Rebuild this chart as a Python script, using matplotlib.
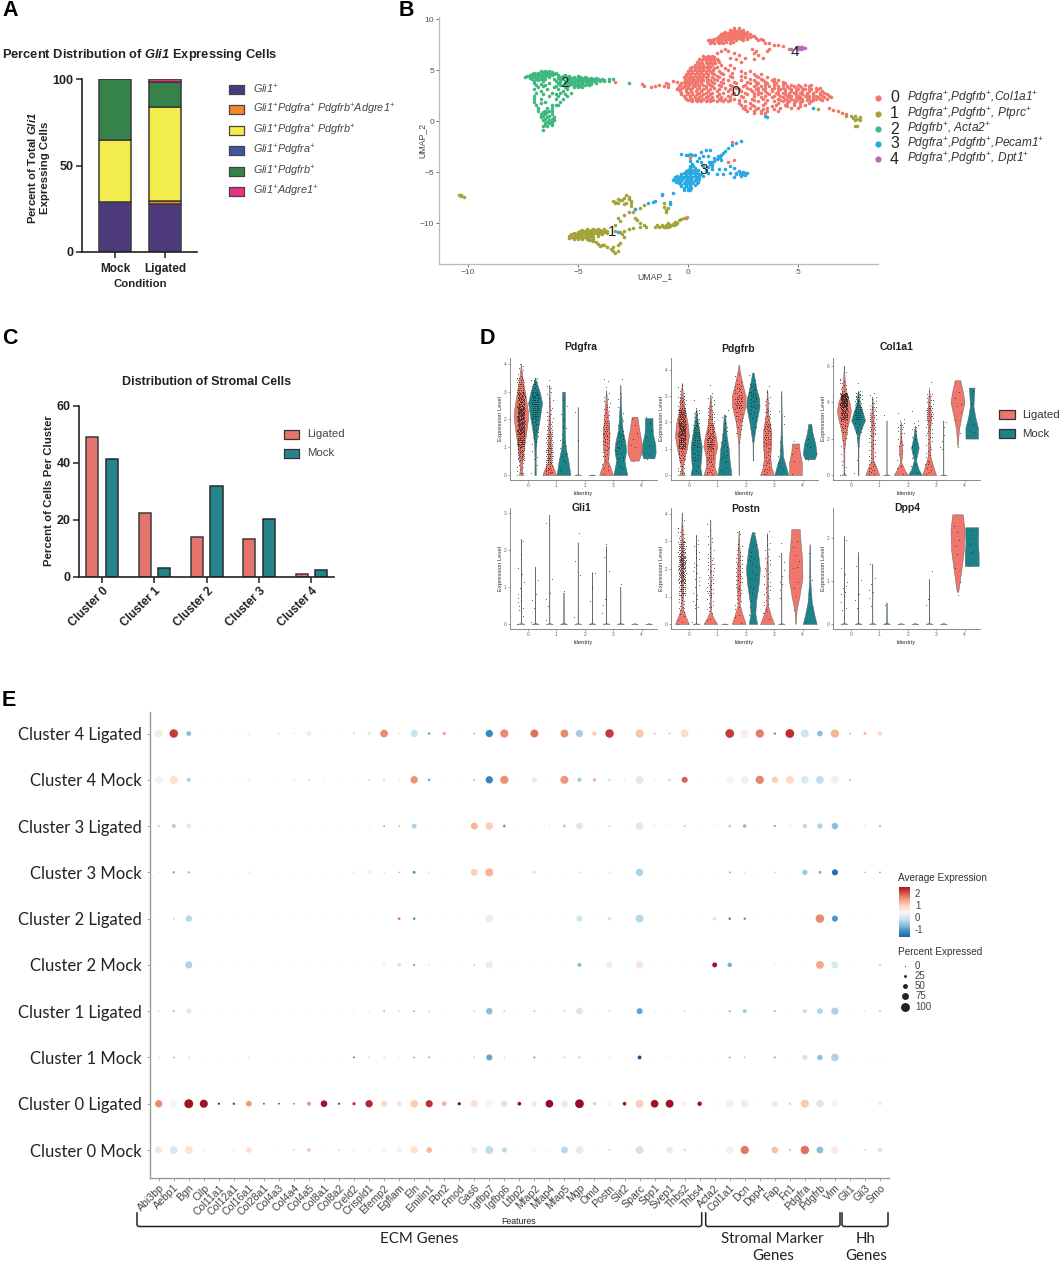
import matplotlib
matplotlib.use('Agg')
import matplotlib.pyplot as plt
import numpy as np
from matplotlib.colors import TwoSlopeNorm

plt.rcParams['font.family'] = ['Liberation Sans', 'DejaVu Sans']
plt.rcParams['mathtext.fontset'] = 'custom'
plt.rcParams['mathtext.rm'] = 'Liberation Sans'
plt.rcParams['mathtext.it'] = 'Liberation Sans:italic'
plt.rcParams['mathtext.bf'] = 'Liberation Sans:bold'
plt.rcParams['mathtext.bfit'] = 'Liberation Sans:italic:bold'

W, H = 1059, 1263

# ---- panel A
a_conditions = ['Mock', 'Ligated']
a_labels = [r'Gli1$^{+}$', r'Gli1$^{+}$Pdgfra$^{+}$ Pdgfrb$^{+}$Adgre1$^{+}$', r'Gli1$^{+}$Pdgfra$^{+}$ Pdgfrb$^{+}$',
            r'Gli1$^{+}$Pdgfra$^{+}$', r'Gli1$^{+}$Pdgfrb$^{+}$', r'Gli1$^{+}$Adgre1$^{+}$']
a_colors = ['#4C3A7C', '#F58A2C', '#F2EC4C', '#3F56A8', '#35834A', '#EC2F86']
a_mock = [29, 0, 35.5, 0, 35.5, 0]
a_ligated = [27.5, 1.7, 54.8, 0, 14, 2]

# ---- panel C
c_clusters = ['Cluster 0', 'Cluster 1', 'Cluster 2', 'Cluster 3', 'Cluster 4']
c_ligated = [49, 22.3, 14, 13.3, 0.8]
c_mock = [41.5, 3.2, 31.8, 20.2, 2.3]

umap0_rows = {
    9.1: [2.1, 2.3], 8.9: [1.9, 2.1, 2.3, 2.5], 8.7: [1.7, 1.9, 2.1, 2.3, 2.5, 2.7],
    8.5: [1.5, 1.7, 1.9, 2.0, 2.2, 2.4, 2.6, 2.8], 8.3: [1.4, 1.6, 1.8, 2.0, 2.2, 2.4, 2.6, 2.9, 3.0],
    8.1: [1.3, 1.5, 1.7, 1.9, 2.1, 2.3, 2.5, 2.7, 3.1], 7.9: [0.9, 1.0, 1.1, 1.3, 1.5, 1.7, 1.9, 2.2, 2.5, 3.2, 3.4],
    7.7: [1.0, 1.2, 1.4, 1.6, 1.9, 3.5, 3.7], 7.5: [3.9, 4.1], 7.35: [4.3], 7.1: [1.7, 2.9, 4.6, 3.7], 6.9: [1.5, 1.8, 3.1, 3.6],
    6.7: [1.3, 2.1, 3.0], 6.5: [2.3, 3.2], 6.4: [0.7, 0.9, 1.1], 6.2: [1.9, 2.6, 3.4], 6.1: [0.5, 0.7, 0.9, 1.1, 1.3, 2.2, 3.0],
    5.8: [0.4, 0.6, 0.8, 1.0, 1.2, 1.4, 2.4], 5.5: [0.3, 0.5, 0.7, 0.9, 1.1, 1.5, 1.9],
    5.2: [0.1, 0.3, 0.5, 0.7, 0.9, 1.2, 1.7, 2.1], 4.9: [0, 0.2, 0.4, 0.6, 0.8, 1.0, 1.4, 2.4, 2.8],
    4.6: [-0.1, 0.1, 0.3, 0.5, 0.7, 0.9, 1.2, 1.6, 3.0, 3.3], 4.3: [-0.2, 0, 0.2, 0.4, 0.6, 0.8, 1.1, 1.4, 2.0, 2.6, 3.2, 3.6],
    4.0: [-0.1, 0.1, 0.3, 0.5, 0.7, 1.0, 1.3, 1.8, 2.4, 3.0, 3.4, 3.8, 4.1],
    3.8: [-0.5, -3.3], 3.9: [-0.7],
    3.7: [-1.0, -0.3, -0.1, 0.1, 0.3, 0.6, 0.9, 1.2, 1.6, 2.2, 2.8, 3.2, 3.6, 4.0, 4.4],
    3.6: [-2.1, -0.9], 3.5: [-1.3],
    3.4: [-2.0, -1.5, -1.1, -0.4, -0.2, 0, 0.3, 0.5, 0.8, 1.1, 1.5, 2.0, 2.5, 3.0, 3.3, 3.7, 4.1, 4.5, 4.8, 5.1, 5.5],
    3.3: [-1.7, -0.9],
    3.1: [-0.5, -0.4, -0.1, 0.1, 0.4, 0.7, 1.0, 1.4, 1.9, 2.3, 2.8, 3.1, 3.4, 3.8, 4.2, 4.4, 4.7, 5.0, 5.3, 5.6, 5.9],
    2.8: [-0.3, 0, 0.2, 0.5, 0.8, 1.1, 1.6, 2.1, 2.6, 3.0, 3.3, 3.6, 4.0, 4.3, 4.6, 4.8, 5.1, 5.4, 5.7, 6.0, 6.2],
    2.5: [-0.2, 0.1, 0.3, 0.6, 0.9, 1.3, 1.8, 2.4, 3.0, 3.5, 3.9, 4.2, 4.5, 4.7, 5.0, 5.3, 5.5, 5.8, 6.1, 6.4],
    2.2: [-0.1, 0.2, 0.4, 0.7, 1.0, 1.4, 1.7, 2.1, 2.9, 3.4, 4.1, 4.4, 4.7, 5.0, 5.2, 5.5, 5.8, 6.0, 6.3],
    1.95: [0.2, 0.4, 0.6, 0.8, 1.0, 1.3, 1.6, 1.8, 2.6, 3.2, 3.9, 4.3, 4.6, 4.9, 5.2, 5.6],
    1.6: [2.4, 2.9, 3.4, 4.0, 4.4, 4.8, 5.3], 1.3: [2.5, 2.8, 3.2, 3.6, 4.2, 4.7, 5.0, 6.4], 1.1: [6.6],
    1.0: [2.7, 3.0, 3.3, 3.6, 4.1, 6.8], 0.8: [7.0], 0.75: [3.0, 3.3, 3.5], 0.7: [7.2],
    -2.0: [2.0], -3.6: [0.1], -3.8: [2.1], -4.0: [1.8], -9.4: [-0.05], -9.5: [-0.1],
}
umap0_more = {
    8.8: [2.0, 2.2, 2.4], 8.6: [1.6, 1.8, 2.0, 2.2, 2.4, 2.6], 8.4: [1.5, 1.7, 1.9, 2.1, 2.3, 2.5, 2.7],
    8.2: [1.4, 1.6, 1.8, 2.0, 2.2, 2.4, 2.8], 8.0: [1.2, 1.4, 1.6, 1.8, 2.0, 2.4, 2.7, 3.3], 7.8: [1.05, 1.15, 1.35, 1.5, 1.75, 2.05],
    6.25: [0.8, 1.0, 1.2], 5.95: [0.6, 0.8, 1.0, 1.2, 1.35], 5.65: [0.45, 0.65, 0.85, 1.05, 1.25],
    5.35: [0.2, 0.4, 0.6, 0.8, 1.0, 1.3], 5.05: [0.1, 0.3, 0.5, 0.7, 0.95, 1.15, 1.8],
    4.75: [0, 0.2, 0.4, 0.6, 0.8, 1.1, 1.5, 2.0, 2.6], 4.45: [-0.1, 0.1, 0.3, 0.5, 0.7, 0.9, 1.3, 1.9, 2.4, 3.1],
    4.15: [-0.15, 0.05, 0.25, 0.45, 0.65, 0.85, 1.2, 1.6, 2.8, 3.3, 3.9],
    3.85: [-0.2, 0, 0.2, 0.4, 0.6, 0.85, 1.1, 1.5, 2.1, 2.7, 3.1, 3.5, 3.9, 4.3],
    3.55: [-0.35, -0.15, 0.05, 0.25, 0.45, 0.7, 1.0, 1.4, 1.9, 2.6, 3.1, 3.5, 3.9, 4.3, 4.7, 5.0, 5.3, 5.6],
    3.25: [-0.45, -0.25, -0.05, 0.2, 0.5, 0.8, 1.2, 1.7, 2.2, 2.7, 3.2, 3.5, 3.9, 4.1, 4.3, 4.6, 4.9, 5.2, 5.5, 5.8, 6.0],
    2.95: [-0.35, -0.1, 0.15, 0.35, 0.6, 0.9, 1.3, 1.8, 2.4, 2.9, 3.2, 3.5, 3.8, 4.1, 4.4, 4.7, 4.9, 5.2, 5.5, 5.8, 6.1],
    2.65: [-0.3, -0.05, 0.2, 0.4, 0.7, 1.0, 1.4, 2.0, 2.7, 3.2, 3.7, 4.1, 4.4, 4.6, 4.9, 5.2, 5.4, 5.7, 6.0, 6.3],
    2.35: [-0.15, 0.1, 0.3, 0.5, 0.8, 1.1, 1.5, 1.9, 2.5, 3.3, 3.8, 4.3, 4.6, 4.9, 5.1, 5.4, 5.7, 5.9, 6.2, 6.5],
    2.08: [0, 0.15, 0.35, 0.55, 0.85, 1.15, 1.5, 1.9, 2.3, 3.0, 3.6, 4.2, 4.5, 4.8, 5.1, 5.4, 5.7, 6.1],
    1.8: [2.3, 2.8, 3.5, 4.1, 4.5, 4.8, 5.1, 5.5], 1.45: [2.6, 3.0, 3.8, 4.5, 5.1], 1.15: [2.6, 3.1, 3.4, 3.9],
}
umap1_rows = {
    0.5: [7.2, 7.4, 7.6], 0.4: [7.8], 0.3: [7.5], 0.2: [7.7], 0.1: [7.6, 7.8], -0.5: [7.6, 7.7], 1.2: [5.9],
    -7.2: [-10.4, -10.3, -2.8], -7.3: [-10.3], -7.4: [-10.2, -2.7], -7.5: [-2.9],
    -7.7: [-3.0, -3.1], -7.8: [-3.4, -2.6], -7.9: [-3.3], -8.0: [-3.2, -1.1], -8.1: [-2.9], -8.2: [-2.0],
    -8.3: [-2.6], -8.4: [-1.1], -8.5: [-2.2, -0.9], -8.6: [-2.4], -8.7: [-1.0], -8.9: [-2.7, -2.5, -1.0],
    -9.2: [-2.9], -9.5: [-3.2, -2.4, -0.2], -9.6: [-0.3], -9.7: [-2.3, -0.4], -9.8: [-3.1], -9.9: [-0.6],
    -10.0: [-2.2, -0.9, -0.5], -10.1: [-0.7], -10.2: [-3.3, -2.0, -1.4, -1.0], -10.3: [-1.2, -0.8], -10.4: [-2.2, -1.9, -1.5, -1.1],
    -10.5: [-2.5], -10.6: [-4.6, -4.3, -4.1, -3.8, -2.7],
    -10.8: [-4.9, -4.7, -4.5, -4.3, -4.1, -3.9, -3.7, -3.3, -2.9], -10.9: [-3.1],
    -11.0: [-5.2, -5.0, -4.8, -4.6, -4.4, -4.2, -4.0, -3.7], -11.1: [-3.0],
    -11.2: [-5.4, -5.2, -5.0, -4.8, -4.6, -4.4, -4.1], -11.3: [-2.9],
    -11.4: [-5.4, -5.2, -5.0, -4.8, -4.5], -11.7: [-4.3], -11.9: [-3.1], -12.0: [-4.1], -12.1: [-3.8, -3.2],
    -12.2: [-4.0], -12.3: [-3.7, -3.4], -12.5: [-3.5], -12.7: [-3.4, -3.2], -12.9: [-3.3],
}
umap1_more = {
    -10.7: [-4.8, -4.6, -4.4, -4.2, -4.0, -3.8], -10.9: [-5.0, -4.8, -4.6, -4.4, -4.2, -4.0, -3.8],
    -11.1: [-5.3, -5.1, -4.9, -4.7, -4.5, -4.3, -4.1, -3.9], -11.3: [-5.3, -5.1, -4.9, -4.7, -4.5, -4.3],
    -11.5: [-5.2, -5.0, -4.8, -4.6, -4.3], -11.6: [-4.5, -4.4], -11.85: [-4.2], -12.15: [-3.9],
    -10.35: [-1.0, -0.9, -1.3], -10.15: [-0.85, -0.75, -1.2, -0.65], -10.05: [-0.55], -7.6: [-3.2, -2.7], -8.05: [-3.3, -2.8, -2.6],
}
umap2_rows = {
    4.9: [-6.7, -6.5, -6.3], 4.7: [-7.0, -6.8, -6.6, -6.4, -6.2, -6.0], 4.5: [-7.2, -7.0, -6.8, -6.6, -6.4, -6.2, -5.9, -5.6],
    4.3: [-7.4, -7.2, -7.0, -6.8, -6.6, -6.3, -5.8, -5.5, -5.2, -4.9, -4.7],
    4.1: [-7.1, -6.9, -6.7, -6.5, -6.1, -5.7, -5.4, -5.1, -4.9, -4.7, -4.5, -4.3, -4.1, -3.9, -3.6, -3.4],
    3.9: [-7.0, -6.6, -6.0, -5.6, -5.3, -5.1, -4.9, -4.7, -4.5, -4.3, -4.0, -3.8, -3.6],
    3.75: [-2.7], 3.7: [-7.0, -6.3, -5.9, -5.5, -5.2, -5.0, -4.8, -4.6, -4.4, -4.2],
    3.5: [-6.9, -6.5, -5.8, -5.4, -5.1, -4.9, -4.7, -4.5], 3.3: [-6.8, -6.1, -5.6, -5.2, -5.0, -4.8],
    3.1: [-7.0, -6.4, -5.9, -5.5], 2.8: [-6.9, -6.2, -5.8, -5.3], 2.5: [-7.0, -6.3, -5.9, -5.5], 2.2: [-7.0, -6.7, -6.0, -5.7],
    1.9: [-7.0, -6.5, -5.8], 1.6: [-6.9, -6.2, -6.0, -5.9], 1.3: [-6.8, -6.4, -6.2], 1.0: [-6.8, -6.5, -6.3, -6.2],
    0.7: [-6.7, -6.5, -6.2], 0.4: [-6.7, -6.4, -6.1], 0.1: [-6.6, -6.3, -6.1], -0.2: [-6.5, -6.3, -6.2], -0.5: [-6.6, -6.4], -0.85: [-6.6],
}
umap2_more = {
    4.8: [-6.6, -6.4, -6.2], 4.6: [-7.1, -6.9, -6.7, -6.5, -6.3, -6.1], 4.4: [-7.3, -7.1, -6.9, -6.7, -6.5, -5.7, -5.4, -5.0],
    4.2: [-7.2, -6.9, -6.6, -5.9, -5.5, -5.3, -5.0, -4.8, -4.6, -4.4, -4.2],
    4.0: [-6.8, -5.8, -5.5, -5.2, -5.0, -4.8, -4.6, -4.4, -4.2, -4.0, -3.8],
    3.8: [-5.8, -5.4, -5.2, -5.0, -4.8, -4.6, -4.4, -4.2], 3.6: [-6.7, -5.6, -5.3, -5.0, -4.8, -4.6, -4.4],
    3.4: [-6.6, -6.0, -5.5, -5.2, -4.9], 3.0: [-6.7, -5.7], 2.65: [-6.6, -6.0, -5.6], 1.75: [-6.7],
    0.85: [-6.6, -6.4], 0.55: [-6.6, -6.3], 0.25: [-6.5, -6.2], -0.05: [-6.4, -6.2], -0.35: [-6.5, -6.2],
}
umap3_rows = {
    1.3: [5.7], 0.5: [3.5], 0.4: [3.6], -1.9: [2.4], -2.1: [2.2], -2.3: [2.0], -2.6: [1.8], -2.8: [0.8, 1.0], -2.9: [1.7], -3.0: [0.6],
    -3.1: [1.6], -3.2: [-0.3, 0.1], -3.3: [-0.1, 0.3, 1.5], -3.4: [0.7, 1.4], -3.5: [1.4], -3.6: [0.5], -3.7: [1.3], -3.8: [1.5],
    -3.9: [0.1, 0.4, 1.2], -4.2: [0.2, 1.0, 1.1], -4.4: [1.9], -4.5: [0.9], -4.6: [0.1, 0.3, 2.1], -4.7: [1.1, 1.4, 1.7],
    -4.8: [0.8], -4.9: [-0.1, 0.1, 0.3, 2.3], -5.0: [2.5], -5.1: [0.9, 1.9, 2.7],
    -5.2: [-0.3, -0.1, 0.1, 0.3, 0.5, 0.6, 1.3, 1.6, 2.2], -5.3: [2.6], -5.4: [2.4], -5.5: [-0.6, -0.4, -0.2, 0, 0.2, 0.4, 2.1],
    -5.8: [-0.7, -0.5, -0.3, -0.1, 0.1, 0.3], -6.1: [-0.4, -0.2, 0, 0.2, 0.4], -6.4: [-0.3, -0.1, 0.1], -6.7: [-0.2, 0, 0.1],
    -7.0: [-0.7], -7.1: [-1.2], -7.2: [-1.2], -7.8: [-1.5], -7.9: [-1.6, -0.8], -8.0: [-1.8], -8.1: [-0.8], -8.6: [-2.4], -10.9: [-3.2],
}
umap3_more = {
    -5.05: [-0.2, 0, 0.2, 0.4, 2.2, 2.4, 2.6], -5.35: [-0.5, -0.3, -0.1, 0.1, 0.3, 0.5, 0.7], -5.65: [-0.65, -0.45, -0.25, -0.05, 0.15, 0.35, 0.5],
    -5.95: [-0.55, -0.35, -0.15, 0.05, 0.25, 0.45], -6.25: [-0.3, -0.1, 0.1, 0.3], -6.55: [-0.2, 0, 0.15], -4.75: [0, 0.2, 0.45],
    -3.6: [1.2, 1.45], -3.3: [0, 0.2], -4.4: [0.1, 0.25, 0.7, 1.1], -5.15: [2.35, 2.5], -3.45: [0.9, 1.35], -4.0: [0.6, 0.95, 1.05],
}
umap4_rows = {7.3: [5.0, 5.2], 7.2: [4.9, 5.1, 5.3], 7.1: [4.7, 5.0], 7.05: [5.15]}
umap4_more = {7.15: [5.2, 5.25], 7.25: [5.05, 5.15]}
umap_rows = [[umap0_rows, umap0_more], [umap1_rows, umap1_more], [umap2_rows, umap2_more], [umap3_rows, umap3_more], [umap4_rows, umap4_more]]
umap_colors = ['#F2766C', '#A3A33A', '#3DB87F', '#27A9E1', '#B56DB5']
umap_legend = [r'Pdgfra$^{+}$,Pdgfrb$^{+}$,Col1a1$^{+}$', r'Pdgfra$^{+}$,Pdgfrb$^{+}$, Ptprc$^{+}$', r'Pdgfrb$^{+}$, Acta2$^{+}$',
               r'Pdgfra$^{+}$,Pdgfrb$^{+}$,Pecam1$^{+}$', r'Pdgfra$^{+}$,Pdgfrb$^{+}$, Dpt1$^{+}$']

# ---- panel D, violin outlines as (level, relative width), ligated then mock for clusters 0-4
flat = [(0, 0.5), (0.02, 0.01)]
def thin(top, w=0.015):
    return [(0, 0.5), (0.03, w), (top, w * 0.6)]

pdgfra_v = [
    [(0, .3), (.15, .15), (.5, .2), (1, .45), (1.5, .75), (2, 1), (2.3, 1), (2.8, .7), (3.3, .35), (3.7, .12), (4, .02)],
    [(0, .1), (.5, .08), (1, .12), (1.5, .3), (2, .65), (2.6, 1), (3, .65), (3.3, .25), (3.5, .03)],
    [(0, 1), (.2, .7), (.45, .25), (.8, .25), (1.2, .22), (2, .12), (3.25, .02)],
    [(0, 1), (.5, .7), (1, .3), (1.5, .2), (2, .2), (3, .2)],
    thin(2.45), flat,
    [(0, 1), (.25, .65), (.5, .3), (1, .4), (1.5, .5), (2, .3), (2.5, .15), (3.05, .02)],
    [(0, 1), (.5, .6), (.9, .85), (1.2, .7), (1.6, .35), (2, .2), (2.5, .1), (3.25, .02)],
    [(.52, .6), (.8, 1), (1.2, 1), (1.6, .7), (2.1, .4)],
    [(.6, .8), (.8, 1), (1.1, .95), (1.5, .6), (1.8, .55), (2.05, .55)],
]
pdgfrb_v = [
    [(0, .4), (.2, .1), (.5, .25), (1, .7), (1.5, 1), (2, .8), (2.5, .4), (3, .15), (3.5, .02)],
    [(0, .8), (.3, .6), (.7, .75), (1.1, .8), (1.5, .55), (2, .25), (2.5, .05)],
    [(0, 1), (.3, .6), (.7, .65), (1.1, 1), (1.5, .75), (2, .3), (3.05, .03)],
    [(0, 1), (.5, .75), (1, .6), (1.5, .3), (2.3, .1)],
    [(0, .02), (1.2, .05), (2, .4), (2.6, .95), (3, 1), (3.4, .6), (3.9, .2), (4.2, .02)],
    [(.55, .02), (1.2, .05), (2, .5), (2.6, .95), (2.9, .9), (3.3, .5), (3.9, .1)],
    [(0, 1), (.3, .6), (.7, .45), (1.2, .6), (1.7, .55), (2.3, .2), (3.25, .02)],
    [(0, 1), (.3, .7), (.7, .25), (1.5, .1), (3.2, .01)],
    [(0, .9), (.5, .9), (.9, .6), (1.2, .5)],
    [(.6, .7), (.8, 1), (1.2, .8), (1.6, .4), (1.95, .2)],
]
col1a1_v = [
    [(0, .3), (.1, .05), (1.5, .08), (2.5, .4), (3, .75), (3.5, 1), (4, .8), (4.5, .3), (5.3, .1), (6, .01)],
    [(0, .05), (1.5, .05), (2.2, .2), (2.7, .65), (3, 1), (3.4, .7), (3.9, .25), (4.6, .05)],
    [(0, 1), (.4, .6), (.8, .15), (2, .15), (3, .2), (4.3, .02)],
    thin(3.0),
    [(0, 1), (.3, .55), (.7, .08), (1.3, .25), (2, .1), (2.9, .02)],
    [(0, 1), (.3, .55), (.8, .15), (1.5, .55), (2, .25), (2.7, .03)],
    [(0, 1), (.4, .65), (1, .2), (2, .1), (3.2, .25), (4, .15), (4.7, .02)],
    thin(3.0),
    [(1.6, .02), (2.5, .2), (3.3, .6), (4, 1), (4.5, .8), (5.2, .4)],
    [(2.0, .9), (2.6, .9), (3.2, .5), (3.8, .25), (4.8, .4)],
]
gli1_v = [thin(2.3), thin(1.55), thin(2.95), thin(.85, .05), thin(2.2), thin(1.4), thin(2.1), thin(1.0, .03), flat, flat]
postn_v = [
    [(0, 1), (.3, .5), (.6, .1), (2, .2), (3, .15), (4.05, .02)],
    thin(3.25),
    [(0, 1), (.2, .5), (.45, .08), (2, .06), (3.8, .01)],
    flat,
    [(0, 1), (.3, .6), (.7, .15), (1.5, .25), (2.5, .15), (3.4, .02)],
    [(0, .6), (.4, .35), (.8, .45), (1.5, .85), (2, 1), (2.7, .7), (3.2, .3), (3.35, .1)],
    [(0, 1), (.3, .55), (.7, .1), (2, .1), (3.3, .01)],
    thin(2.6),
    [(0, .02), (.5, .15), (1, .55), (1.7, 1), (2.5, .9), (3.2, .65), (3.45, .6)],
    [(0, 1), (.3, .7), (.8, .3), (1.5, .1), (2.9, .03)],
]
dpp4_v = [thin(2.05), thin(1.65), thin(1.4), thin(.5, .06), flat, flat, thin(1.05), flat,
          [(.75, .1), (1.2, .5), (1.7, .9), (2.2, 1), (2.55, .75)],
          [(1.35, 1), (1.6, 1), (1.9, .9), (2.25, .95)]]

# cell counts in eight equal level bins, same order as the violins
pdgfra_n = [[10, 35, 60, 85, 95, 60, 25, 8], [2, 3, 6, 12, 28, 32, 14, 0], [25, 35, 25, 15, 8, 5, 3, 0], [2, 4, 4, 3, 2, 1, 0, 0],
            [0, 0, 1, 0, 1, 0, 0, 0], [0] * 8, [6, 10, 18, 20, 10, 7, 3, 0], [4, 7, 10, 5, 3, 2, 1, 0],
            [0, 1, 3, 2, 1, 0, 0, 0], [0, 1, 2, 2, 1, 0, 0, 0]]
pdgfrb_n = [[12, 20, 70, 85, 60, 25, 7, 0], [3, 10, 20, 18, 10, 2, 0, 0], [15, 25, 45, 30, 15, 8, 2, 0], [4, 8, 6, 5, 3, 0, 0, 0],
            [0, 0, 1, 5, 12, 28, 14, 4], [0, 0, 1, 2, 6, 12, 14, 3], [12, 12, 18, 22, 12, 6, 2, 0], [4, 2, 2, 1, 2, 1, 0, 0],
            [1, 2, 2, 0, 0, 0, 0, 0], [0, 1, 3, 2, 0, 0, 0, 0]]
col1a1_n = [[4, 2, 5, 18, 65, 120, 12, 2], [1, 1, 2, 8, 30, 22, 2, 0], [14, 10, 12, 14, 18, 8, 0, 0], [0, 0, 0, 0, 1, 0, 0, 0],
            [3, 2, 6, 10, 2, 0, 0, 0], [3, 2, 7, 6, 1, 0, 0, 0], [8, 6, 8, 12, 25, 12, 2, 0], [0, 1, 3, 2, 0, 0, 0, 0],
            [0, 0, 1, 1, 2, 3, 1, 0], [0, 0, 0, 2, 1, 1, 1, 0]]
gli1_n = [[2, 6, 3, 2, 1, 1, 1, 0], [1, 2, 1, 1, 0, 0, 0, 0], [1, 2, 1, 1, 0, 0, 0, 1], [0, 0, 1, 0, 0, 0, 0, 0],
          [1, 0, 0, 1, 1, 0, 1, 0], [0, 1, 1, 1, 0, 0, 0, 0], [1, 2, 0, 1, 1, 1, 0, 0], [0, 0, 1, 0, 0, 0, 0, 0], [0] * 8, [0] * 8]
postn_n = [[6, 12, 35, 55, 65, 40, 12, 3], [1, 5, 4, 5, 5, 5, 1, 0], [4, 8, 15, 12, 10, 6, 3, 1], [0] * 8,
           [3, 6, 10, 15, 14, 6, 3, 0], [1, 2, 3, 4, 5, 3, 1, 0], [3, 6, 8, 6, 6, 4, 2, 0], [0, 1, 2, 3, 2, 1, 0, 0],
           [0, 1, 2, 1, 3, 2, 1, 0], [1, 0, 1, 1, 0, 1, 0, 0]]
dpp4_n = [[0, 3, 5, 2, 1, 0, 1, 0], [0, 2, 1, 1, 1, 1, 0, 0], [0, 2, 3, 1, 1, 0, 0, 0], [0, 1, 0, 0, 0, 0, 0, 0], [0] * 8, [0] * 8,
          [0, 2, 0, 1, 0, 0, 0, 0], [0] * 8, [0, 0, 1, 1, 1, 2, 2, 1], [0, 0, 0, 0, 1, 2, 2, 0]]

violin_panels = [
    ('Pdgfra', pdgfra_v, pdgfra_n, 4.0, [0, 1, 2, 3, 4]),
    ('Pdgfrb', pdgfrb_v, pdgfrb_n, 4.0, [0, 1, 2, 3, 4]),
    ('Col1a1', col1a1_v, col1a1_n, 6.0, [0, 2, 4, 6]),
    ('Gli1', gli1_v, gli1_n, 3.0, [0, 1, 2, 3]),
    ('Postn', postn_v, postn_n, 4.0, [0, 1, 2, 3, 4]),
    ('Dpp4', dpp4_v, dpp4_n, 2.6, [0, 1, 2]),
]
v_colors = ['#F0766B', '#1D8389']

# ---- panel E
e_rows = ['Cluster 4 Ligated', 'Cluster 4 Mock', 'Cluster 3 Ligated', 'Cluster 3 Mock', 'Cluster 2 Ligated',
          'Cluster 2 Mock', 'Cluster 1 Ligated', 'Cluster 1 Mock', 'Cluster 0 Ligated', 'Cluster 0 Mock']
e_genes = ['Abi3bp', 'Aebp1', 'Bgn', 'Cilp', 'Col11a1', 'Col12a1', 'Col16a1', 'Col28a1', 'Col4a3', 'Col4a4', 'Col4a5', 'Col8a1',
           'Col8a2', 'Creld2', 'Crispld1', 'Efemp2', 'Egflam', 'Eln', 'Emilin1', 'Fbn2', 'Fmod', 'Gas6', 'Igfbp7', 'Igfbp6',
           'Ltbp2', 'Mfap2', 'Mfap4', 'Mfap5', 'Mgp', 'Omd', 'Postn', 'Slit2', 'Sparc', 'Spp1', 'Svep1', 'Thbs2', 'Thbs4',
           'Acta2', 'Col1a1', 'Dcn', 'Dpp4', 'Fap', 'Fn1', 'Pdgfra', 'Pdgfrb', 'Vim', 'Gli1', 'Gli3', 'Smo']
pct = [
    [85, 95, 50, 5, 5, 5, 40, 5, 5, 5, 45, 5, 5, 20, 30, 85, 6, 80, 20, 30, 5, 10, 80, 92, 5, 88, 5, 88, 80, 40, 95, 5, 92, 20, 20, 88, 5, 5, 98, 92, 92, 18, 98, 88, 60, 92, 12, 28, 45],
    [85, 92, 35, 4, 4, 5, 30, 4, 4, 5, 8, 6, 4, 3, 10, 30, 6, 82, 20, 8, 5, 12, 80, 92, 4, 50, 6, 90, 40, 30, 30, 5, 85, 8, 30, 65, 6, 5, 85, 85, 92, 70, 88, 85, 85, 85, 12, 5, 6],
    [15, 40, 50, 5, 3, 3, 6, 3, 3, 6, 6, 8, 3, 8, 20, 12, 12, 50, 10, 6, 3, 75, 82, 25, 4, 20, 12, 25, 75, 8, 15, 4, 85, 15, 10, 14, 3, 10, 20, 35, 5, 18, 10, 45, 55, 70, 8, 6, 15],
    [6, 20, 15, 3, 4, 4, 8, 4, 4, 5, 5, 4, 4, 10, 45, 6, 8, 25, 8, 6, 4, 75, 90, 5, 4, 30, 6, 8, 12, 6, 12, 4, 82, 4, 8, 8, 4, 4, 10, 6, 4, 8, 4, 55, 25, 65, 3, 8, 10],
    [5, 10, 70, 4, 4, 4, 5, 4, 4, 4, 5, 4, 4, 4, 5, 4, 22, 22, 4, 4, 4, 4, 85, 5, 5, 6, 4, 5, 65, 4, 35, 4, 90, 4, 5, 5, 4, 40, 22, 20, 4, 4, 4, 4, 95, 65, 3, 4, 4],
    [5, 6, 78, 4, 4, 8, 8, 3, 3, 5, 4, 4, 6, 6, 8, 20, 40, 15, 8, 5, 4, 8, 80, 5, 4, 6, 4, 5, 40, 5, 72, 4, 85, 4, 5, 5, 4, 50, 45, 5, 4, 28, 4, 4, 88, 80, 3, 3, 20],
    [8, 18, 50, 8, 3, 6, 10, 4, 4, 6, 6, 6, 4, 12, 8, 12, 10, 14, 10, 6, 3, 10, 70, 12, 3, 12, 10, 12, 75, 5, 10, 3, 65, 12, 10, 10, 5, 8, 20, 40, 5, 14, 6, 45, 60, 80, 4, 6, 10],
    [7, 12, 10, 4, 3, 4, 8, 4, 3, 5, 4, 3, 3, 10, 10, 7, 5, 10, 10, 4, 4, 10, 65, 10, 3, 14, 4, 12, 14, 4, 8, 3, 38, 3, 8, 6, 4, 4, 14, 12, 3, 14, 4, 55, 55, 85, 3, 4, 6],
    [80, 85, 100, 90, 15, 20, 60, 12, 12, 12, 40, 72, 18, 30, 80, 65, 50, 85, 78, 48, 28, 78, 85, 70, 35, 55, 85, 75, 98, 28, 50, 35, 90, 85, 88, 50, 45, 10, 85, 88, 8, 60, 20, 90, 80, 78, 5, 6, 30],
    [80, 85, 88, 12, 4, 12, 58, 5, 3, 16, 38, 6, 12, 12, 20, 48, 50, 80, 62, 10, 3, 65, 88, 55, 6, 50, 18, 75, 85, 10, 12, 8, 88, 6, 70, 22, 5, 8, 85, 92, 10, 72, 20, 95, 75, 85, 8, 15, 45],
]
avg = [
    [.3, 1.9, -.7, .05, .05, .1, .05, 0, -.5, -.4, .35, -.05, 0, -.3, -.2, 1.3, -.4, -.35, -.9, 1.1, 0, -.8, -1.1, 1.3, -.05, 1.5, -.05, 1.3, -.55, .8, 1.9, 0, .8, -.4, -.35, .55, 0, 0, 1.9, .25, 1.4, -1, 2, -.3, -.7, .95, -.6, .9, .55],
    [.15, .45, -.6, 0, 0, -.1, .03, 0, 0, -.4, -.5, -.2, 0, 0, -.5, -.2, -.3, 1.25, -.9, .1, 0, -.7, -1.15, 1.25, 0, -.2, 0, 1.2, -.6, 1.0, -.2, -.3, -.2, -.2, -.3, 1.6, 0, 0, .08, .25, 1.35, .7, .6, -.25, -.4, .25, -.6, .05, .05],
    [-.5, -.5, -.2, -.1, 0, .05, -.15, 0, 0, -.1, -.1, .05, 0, -.2, .05, -.8, -.6, -.5, -.1, -.1, 0, .95, .7, -.9, 0, .05, -.2, -.6, -.2, -.1, -.4, 0, -.2, -.15, -.2, -.5, 0, -.25, -.6, -.7, -.05, -.8, -.3, -.4, -.5, -.7, .1, -.4, -.7],
    [-.3, -.8, -.8, 0, -.1, -.1, -.3, -.1, -.1, -.1, -.1, -.1, -.1, -.3, .2, -.5, -.7, -1, -.4, -.2, 0, .7, .95, -.1, -.1, -.2, -.1, -.2, -.4, -.15, -.3, -.1, -.5, -.1, -.2, -.2, -.1, -.1, -.9, -.4, -.1, -.5, -.1, -.6, -.8, -1.3, 0, -.7, -.9],
    [-.1, -.5, -.45, -.05, -.05, -.05, -.05, -.05, -.05, -.05, -.05, -.05, -.05, -.1, -.05, -.05, 1.5, -1, -.1, -.05, -.05, -.1, -.07, -.1, -.05, -.1, -.05, -.1, -.3, -.05, -.3, -.05, -.45, -.05, -.1, -.1, -.05, .5, -1, -1, -.05, -.05, -.05, -.05, 1.3, -1, 0, .02, 0],
    [-.1, -.2, -.5, -.05, -.05, -.05, -.05, -.05, -.05, -.1, -.05, -.05, -.1, -.1, -.05, -.15, .6, -.9, -.4, -.05, -.05, -.7, -.1, -.1, -.05, -.1, -.05, -.1, -.7, -.1, .3, -.05, .35, -.05, -.1, -.1, -.05, 2.3, -.8, -.1, -.05, .1, -.05, -.05, 1.05, -.25, 0, .02, -.4],
    [-.45, -.55, -.2, -.1, 0, .03, -.05, 0, -.1, -.1, -.1, -.05, 0, .35, -.2, -.7, -.4, -.7, -.4, -.1, 0, -.5, -.7, -.5, 0, -.6, -.1, -.5, -.2, -.1, -.5, 0, -.9, -.1, -.2, -.4, -.05, -.15, -.6, -.6, -.05, -.7, -.1, -.35, -.5, -.5, 0, -.4, -.7],
    [-.45, -.7, -.5, -.05, -.05, -.05, -.3, -.05, -.05, -.1, -.05, -.05, -.05, -1.5, -.5, -.5, -.3, -.9, -.9, -.05, -.05, -.5, -.9, -.4, -.05, -.9, -.05, -.5, -.5, -.05, -.4, -.05, -1.5, -.05, -.2, -.2, -.05, -.05, -.8, -.5, -.05, -.8, -.05, -.3, -.7, -.5, 0, -.05, -.4],
    [1.3, .12, 2.3, 2.3, 2.5, 2, 1.2, 2, 2, 1.5, 1.2, 2.3, 2, 1.9, 2.1, .6, .45, .7, 2, 1, 2.5, .5, .12, -.25, 2.4, .35, 2.4, -.15, 2.4, .9, .02, 2.3, .7, 2.3, 2.3, .2, 2.3, -.1, .25, .3, -.05, .4, -.4, .75, -.25, .08, .03, .03, .4],
    [.35, -.25, .4, -.2, .02, .4, .55, .02, 0, .6, .75, .1, .7, -.2, .03, .03, -.03, .45, .9, .1, 0, -.1, -.4, -.4, -.05, .03, .2, -.45, -.15, -.1, -.5, -.03, -.3, -.03, .35, -.3, -.05, -.05, -.05, 1.45, -.05, .85, -.5, 1.5, -.7, .3, .03, .6, .6],
]
size_legend = [0, 25, 50, 75, 100]
exp_ticks = [2, 1, 0, -1]


def px_axes(x0, y0, x1, y1):
    # axes from pixel box, y counted from the top of the picture
    return fig.add_axes([x0 / W, 1 - y1 / H, (x1 - x0) / W, (y1 - y0) / H])


def rows_to_xy(groups):
    xs, ys = [], []
    for rows in groups:
        for y, vals in rows.items():
            for x in vals:
                xs.append(x)
                ys.append(y)
    return xs, ys


def dot_size(p):
    d = 0.9 + 0.08 * np.asarray(p, dtype=float)
    return (d * 0.72) ** 2


fig = plt.figure(figsize=(W / 100, H / 100), dpi=100)

# ---------- A
ax = px_axes(82, 79, 197, 252)
ax.set_xlim(-0.66, 1.64)
ax.set_ylim(0, 100)
bottoms = np.zeros(2)
for i, col in enumerate(a_colors):
    vals = np.array([a_mock[i], a_ligated[i]])
    ax.bar([0, 1], vals, 0.64, bottom=bottoms, color=col, edgecolor='#3a3a3a', linewidth=1.1 if vals.max() > 0 else 0)
    bottoms = bottoms + vals
ax.set_xticks([0, 1], a_conditions, fontweight='bold', fontsize=8.5, color='#222')
ax.set_yticks([0, 50, 100], ['0', '50', '100'], fontweight='bold', fontsize=9, color='#222')
ax.tick_params(length=4, width=1.1, color='#222', pad=2)
ax.tick_params(axis='x', pad=4)
for s in ['top', 'right']:
    ax.spines[s].set_visible(False)
for s in ['left', 'bottom']:
    ax.spines[s].set_linewidth(1.2)
    ax.spines[s].set_color('#222')

# ---------- C
ax = px_axes(79, 406, 334, 576.7)
ax.set_xlim(-0.44, 4.43)
ax.set_ylim(0, 60)
xc = np.arange(5)
ax.bar(xc - 0.186, c_ligated, 0.23, color='#E5756C', edgecolor='#3a3a3a', linewidth=1.1)
ax.bar(xc + 0.186, c_mock, 0.23, color='#23858B', edgecolor='#2a2a2a', linewidth=1.1)
ax.set_xticks(xc)
ax.set_xticklabels(c_clusters, rotation=45, ha='right', rotation_mode='anchor', fontweight='bold', fontsize=8.5, color='#222')
ax.set_yticks([0, 20, 40, 60], ['0', '20', '40', '60'], fontweight='bold', fontsize=9, color='#222')
ax.tick_params(length=4, width=1.1, color='#222', pad=2)
for s in ['top', 'right']:
    ax.spines[s].set_visible(False)
for s in ['left', 'bottom']:
    ax.spines[s].set_linewidth(1.2)
    ax.spines[s].set_color('#222')

# ---------- B
ax = px_axes(439, 17, 878, 264)
ax.set_xlim(-11.32, 8.64)
ax.set_ylim(-13.99, 10.2)
for rows, col in zip(umap_rows, umap_colors):
    xs, ys = rows_to_xy(rows)
    ax.scatter(xs, ys, s=6.5, color=col, linewidths=0)
ax.set_xticks([-10, -5, 0, 5])
ax.set_yticks([-10, -5, 0, 5, 10])
ax.tick_params(labelsize=6, colors='#555', length=2, width=0.6, pad=1.5)
for s in ['top', 'right']:
    ax.spines[s].set_visible(False)
for s in ['left', 'bottom']:
    ax.spines[s].set_color('#bbbbbb')
    ax.spines[s].set_linewidth(0.9)
for lab, x, y in zip('01234', [2.18, -3.46, -5.62, 0.73, 4.84], [2.86, -10.9, 3.77, -4.8, 6.8]):
    ax.text(x, y, lab, fontsize=11, ha='center', va='center', color='#222')

# ---------- D
col_x = [510, 671, 833]
row_box = [(358, 480, 475), (508, 629, 624)]
tops_px = [364, 370, 365.7, 512.7, 514, 538]
tops_val = [4, 4, 6, 3, 4, 2]
for k, (name, shapes, counts, ymax_bin, ticks) in enumerate(violin_panels):
    x0 = col_x[k % 3]
    top, bot, zero = row_box[k // 3]
    scale = (zero - tops_px[k]) / tops_val[k]
    ax = px_axes(x0, top, x0 + 147, bot)
    ax.set_xlim(-18 / 28.4, 129 / 28.4)
    ax.set_ylim((zero - bot) / scale, (zero - top) / scale)
    bin_w = ymax_bin / 8
    for j, prof in enumerate(shapes):
        cat, cond = j // 2, j % 2
        c = cat + (-0.25 if cond == 0 else 0.25)
        ys = np.array([p[0] for p in prof])
        ws = np.array([p[1] for p in prof]) * 0.245
        ax.fill_betweenx(ys, c - ws, c + ws, facecolor=v_colors[cond], edgecolor='#666666', linewidth=0.35, clip_on=False)
        # jittered cells
        dx, dy = [], []
        for b, n in enumerate(counts[j]):
            for i in range(n):
                dy.append(bin_w * (b + (i * 0.5698 + 0.13 * j) % 1))
                dx.append(c + 0.13 * (2 * ((i * 0.7549 + 0.29 * b) % 1) - 1))
        ax.scatter(dx, dy, s=0.4, color='#111111', alpha=0.65, linewidths=0, zorder=3)
    ax.set_xticks(range(5), list('01234'))
    ax.set_yticks(ticks)
    ax.tick_params(labelsize=3.5, colors='#666', length=1.5, width=0.4, pad=1)
    ax.set_xlabel('Identity', fontsize=4.2, color='#333', labelpad=1.5)
    ax.set_ylabel('Expression Level', fontsize=4.2, color='#333', labelpad=0.5)
    for s in ['top', 'right']:
        ax.spines[s].set_visible(False)
    for s in ['left', 'bottom']:
        ax.spines[s].set_color('#777777')
        ax.spines[s].set_linewidth(0.6)

# ---------- E
ax = px_axes(150, 712, 889, 1178)
ax.set_xlim(-0.58, 48.6)
ax.set_ylim(9.605, -0.465)
norm = TwoSlopeNorm(vcenter=0.06, vmin=-1.75, vmax=2.7)
gx, gy = np.meshgrid(np.arange(len(e_genes)), np.arange(len(e_rows)))
ax.scatter(gx.ravel(), gy.ravel(), s=dot_size(np.array(pct).ravel()), c=np.array(avg).ravel(), cmap='RdBu_r', norm=norm, linewidths=0)
ax.set_xticks(range(len(e_genes)))
ax.set_xticklabels(e_genes, rotation=45, ha='right', rotation_mode='anchor', fontsize=7.6, color='#444')
ax.set_yticks(range(len(e_rows)))
ax.set_yticklabels(e_rows, fontsize=12, family='Lato', color='#222')
ax.tick_params(axis='x', length=2, width=0.5, color='#888', pad=1.5)
ax.tick_params(axis='y', length=2, width=0.5, color='#888', pad=4)
for s in ['top', 'right']:
    ax.spines[s].set_visible(False)
for s in ['left', 'bottom']:
    ax.spines[s].set_color('#999999')
    ax.spines[s].set_linewidth(1.0)

# colour key of E
cb = px_axes(899, 887, 909.6, 937)
cb.imshow(np.linspace(0.91, 0.1, 200).reshape(-1, 1), cmap='RdBu_r', aspect='auto', vmin=0, vmax=1)
cb.axis('off')

# ---------- everything placed by picture position
over = fig.add_axes([0, 0, 1, 1], zorder=10)
over.set_xlim(0, W)
over.set_ylim(H, 0)
over.axis('off')
over.patch.set_alpha(0)


def label(x, y, s, **kw):
    kw.setdefault('va', 'center')
    kw.setdefault('ha', 'left')
    over.text(x, y, s, **kw)


for lab, x, y in [('A', 2, 11), ('B', 399, 10), ('C', 2, 339), ('D', 480, 339), ('E', 2, 700)]:
    label(x, y, lab, fontsize=15.5, fontweight='bold', color='black')

label(2, 55, r'Percent Distribution of $\mathbfit{Gli1}$ Expressing Cells', fontsize=9.3, fontweight='bold', color='#222')
label(38, 168, 'Percent of Total $\\mathbfit{Gli1}$\nExpressing Cells', fontsize=8.2, fontweight='bold', color='#222',
      rotation=90, ha='center', multialignment='center')
label(140, 284, 'Condition', fontsize=8.2, fontweight='bold', color='#222', ha='center')
a_leg_y = [89, 109, 130, 150, 171, 191]
for yy, col, txt in zip(a_leg_y, a_colors, a_labels):
    over.fill_between([229, 244], yy - 4.5, yy + 4.5, facecolor=col, edgecolor='#444', linewidth=0.9)
    label(253, yy, txt, fontsize=7.8, style='italic', color='#444')

label(207, 382, 'Distribution of Stromal Cells', fontsize=9, fontweight='bold', color='#222', ha='center')
label(49, 491, 'Percent of Cells Per Cluster', fontsize=8.2, fontweight='bold', color='#222', rotation=90, ha='center')
for yy, col, txt in zip([434, 453], ['#E5756C', '#23858B'], ['Ligated', 'Mock']):
    over.fill_between([284, 299], yy - 4.5, yy + 4.5, facecolor=col, edgecolor='#333', linewidth=0.9)
    label(307, yy, txt, fontsize=8.2, color='#444')

label(655, 277, 'UMAP_1', fontsize=6.3, color='#444', ha='center')
label(422, 140, 'UMAP_2', fontsize=6.3, color='#444', rotation=90, ha='center')
for i, yy in enumerate([98, 114, 129, 144, 159]):
    over.scatter([878], [yy], s=20, color=umap_colors[i], linewidths=0)
    label(894.5, yy, str(i), fontsize=11.5, color='#222', ha='center')
    label(907, yy, umap_legend[i], fontsize=8.6, style='italic', color='#333')

title_xy = [(581, 347), (738, 349), (897, 347), (582, 508), (746, 509), (907, 508)]
for (xx, yy), p in zip(title_xy, violin_panels):
    label(xx, yy, p[0], fontsize=7.5, fontweight='bold', color='#222', ha='center')
for yy, col, txt in zip([414.7, 433.7], v_colors, ['Ligated', 'Mock']):
    over.fill_between([999, 1015], yy - 4.5, yy + 4.5, facecolor=col, edgecolor='#333', linewidth=0.9)
    label(1022, yy, txt, fontsize=8.2, color='#333')

label(898, 878, 'Average Expression', fontsize=7.2, color='#333')
for t, yy in zip(exp_ticks, [894, 906, 918, 930]):
    label(915, yy, str(t), fontsize=7, color='#444')
label(898, 952, 'Percent Expressed', fontsize=7.2, color='#333')
for p, yy in zip(size_legend, [966, 976, 986, 996, 1007]):
    over.scatter([904.5], [yy], s=dot_size(p), color='#222', linewidths=0)
    label(915, yy, str(p), fontsize=7, color='#444')

label(519, 1221, 'Features', fontsize=6.3, color='#222', ha='center')
for x0, x1 in [(137, 701.7), (705.7, 840), (842, 888)]:
    over.plot([x0, x0, x0 + 1.5, x1 - 1.5, x1, x1], [1213, 1225, 1226.5, 1226.5, 1225, 1213], color='#222', lw=1.1)
label(419, 1239, 'ECM Genes', fontsize=10.8, family='Lato', color='#222', ha='center')
label(772.7, 1239, 'Stromal Marker', fontsize=10.8, family='Lato', color='#222', ha='center')
label(772.7, 1256, 'Genes', fontsize=10.8, family='Lato', color='#222', ha='center')
label(866, 1239, 'Hh', fontsize=10.8, family='Lato', color='#222', ha='center')
label(866, 1256, 'Genes', fontsize=10.8, family='Lato', color='#222', ha='center')

fig.savefig('out.png', dpi=100)
